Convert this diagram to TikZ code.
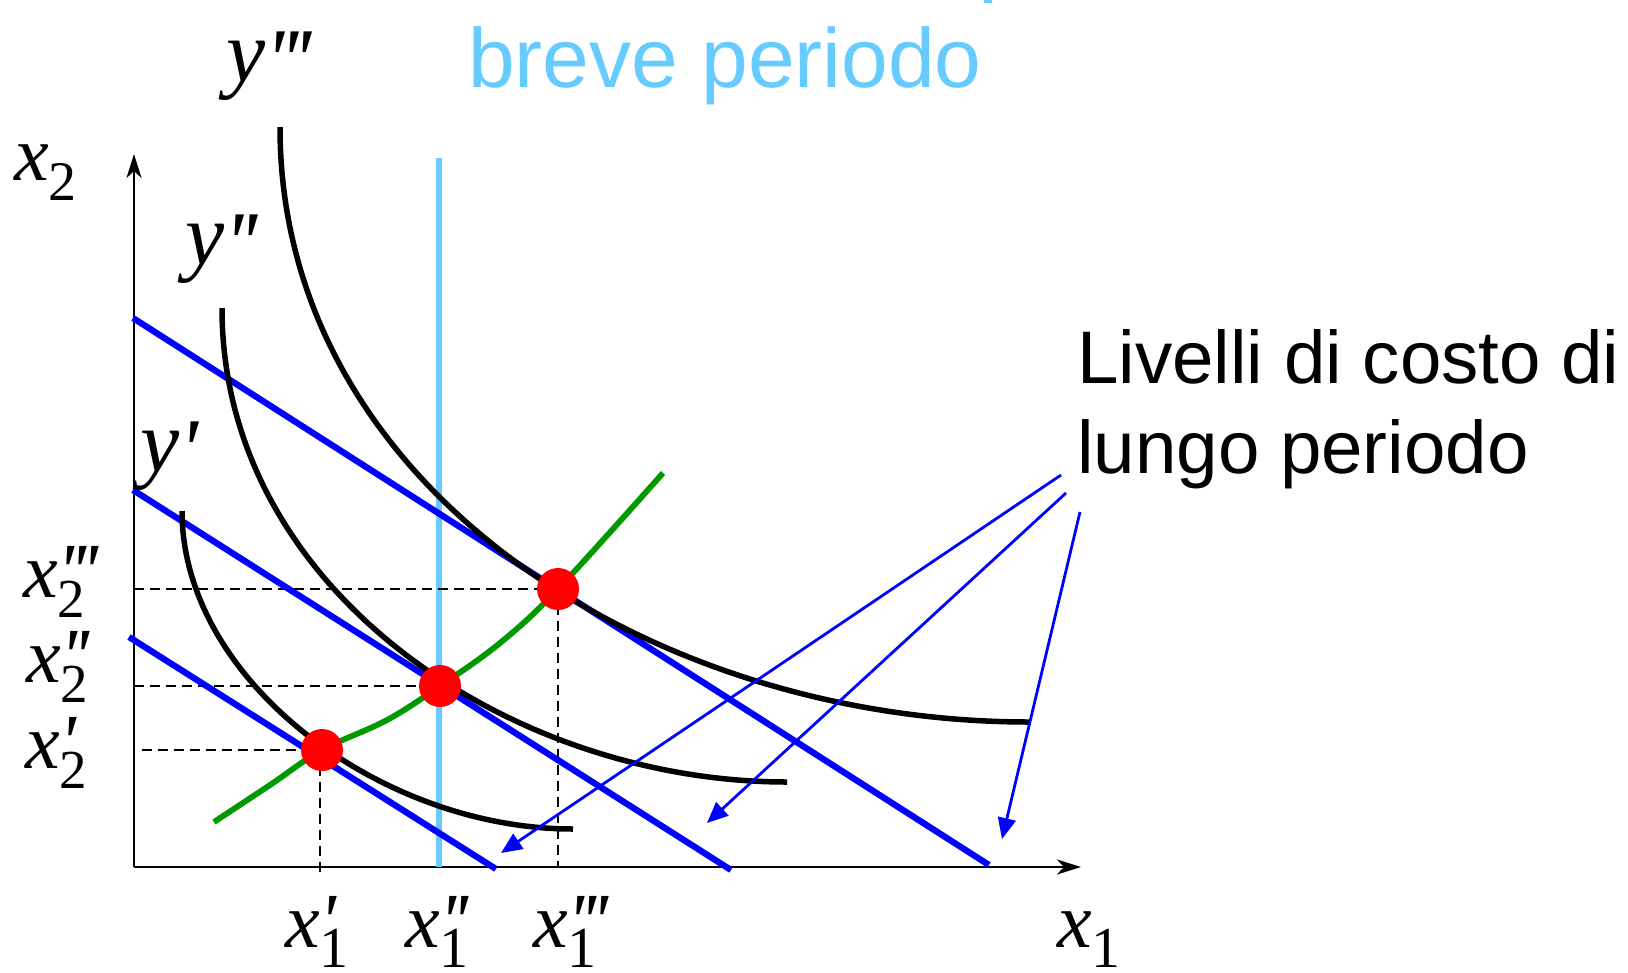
\documentclass[tikz,border=0pt]{standalone}
\usepackage{fontspec}
\newfontfamily\arial{Liberation Sans}
\newfontfamily\tms{Liberation Serif}
\newfontfamily\tmsp[Ligatures=TeXOff]{Liberation Serif}
\usetikzlibrary{arrows.meta}
\definecolor{budget}{RGB}{0,0,255}
\definecolor{expgreen}{RGB}{0,153,0}
\definecolor{srcyan}{RGB}{102,204,255}
\newcommand\pq{{\tmsp\itshape\symbol{39}}}
\newcommand\pone{\pq}
\newcommand\ptwo{\pq\kern-5pt\pq}
\newcommand\pthree{\pq\kern-5pt\pq\kern-5pt\pq}
% x label: #1 subscript size, #2 subscript digit, #3 primes
\newcommand\xsub[3]{x\rlap{\raisebox{0pt}{#3}}\raisebox{-20pt}{\upshape\fontsize{#1}{#1}\selectfont #2}}
\newcommand\ylab[1]{y\raisebox{-8pt}{#1}}
\tikzset{
  xlbl/.style={font=\tms\itshape\fontsize{78}{80}\selectfont, inner sep=0pt, anchor=base west},
  ylbl/.style={font=\tms\itshape\fontsize{88}{92}\selectfont, inner sep=0pt, anchor=base west},
  isoq/.style={line width=5.5pt, black},
  budgetline/.style={line width=6.3pt, budget},
  guide/.style={line width=2.5pt, dash pattern=on 10pt off 6pt},
  axisline/.style={line width=2.8pt, -{Stealth[length=24pt,width=15pt,inset=7pt]}},
  pointer/.style={line width=2.8pt, budget, -{Triangle[length=21pt,width=18pt]}},
  optdot/.style={circle, fill=red, minimum size=42pt, inner sep=0pt},
  exppath/.style={line width=5.8pt, expgreen},
}
\begin{document}
\begin{tikzpicture}[x=1pt,y=-1pt]
\useasboundingbox (0,0) rectangle (1628,972);
% key points
\coordinate (O) at (134,867);
\coordinate (Ytop) at (134,154);
\coordinate (Xend) at (1081,867);
\coordinate (A) at (322,750);
\coordinate (B) at (440,686);
\coordinate (C) at (558,589);
% axes
\draw[axisline] (O) -- (Ytop);
\draw[axisline] (O) -- (Xend);
% short-run fixed input
\draw[line width=6.5pt, srcyan] (439,158) -- (439,867);
\fill[srcyan] (984,0) rectangle (992,3);
% guides
\draw[guide] (O |- C) -- (C);
\draw[guide] (O |- B) -- (B);
\coordinate (g1) at (142,750);
\draw[guide] (g1) -- (A);
\coordinate (g2) at (320,873);
\draw[guide] (A -| g2) -- (g2);
\draw[guide] (C) -- (C |- O);
% isocost lines
\coordinate (L1a) at (129,637); \coordinate (L1b) at (496,869);
\coordinate (L2a) at (133,490); \coordinate (L2b) at (731,870);
\coordinate (L3a) at (133,318); \coordinate (L3b) at (989,865);
\draw[budgetline] (L1a) -- (L1b);
\draw[budgetline] (L2a) -- (L2b);
\draw[budgetline] (L3a) -- (L3b);
% isoquants
\draw[isoq] (182,511) .. controls (182,680) and (380,829) .. (573,829);
\draw[isoq] (222,308) .. controls (222,590) and (510,782) .. (787,782);
\draw[isoq] (280,127) .. controls (280,487) and (650,722) .. (1029,722);
% expansion path
\draw[exppath] plot[smooth, tension=0.6] coordinates {(214,822) (270,785) (322,750) (387,720) (440,686) (500,643) (558,589) (663,473)};
% optimum points
\node[optdot] (dA) at (A) {};
\node[optdot] (dB) at (B) {};
\node[optdot] (dC) at (C) {};
% labels
\node[xlbl] (lx2) at (14,180) {\xsub{56}{2}{}};
\node[xlbl] (lx1) at (1057,947) {\xsub{58}{1}{}};
\node[ylbl] (ly3) at (226,81) {\ylab{\pthree}};
\node[ylbl] (ly2) at (185,264) {\ylab{\ptwo}};
\node[ylbl] (ly1) at (140,471) {\ylab{\pone}};
\node[xlbl] (lx23) at (23,597) {\xsub{55}{2}{\pthree}};
\node[xlbl] (lx22) at (26,682) {\xsub{55}{2}{\ptwo}};
\node[xlbl] (lx21) at (25,768) {\xsub{55}{2}{\pone}};
\node[xlbl] (lx11) at (285,947) {\xsub{58}{1}{\pone}};
\node[xlbl] (lx12) at (405,947) {\xsub{58}{1}{\ptwo}};
\node[xlbl] (lx13) at (533,947) {\xsub{58}{1}{\pthree}};
% texts
\node[font=\arial\fontsize{84}{90}\selectfont, text=srcyan, anchor=base, inner sep=0pt] (bp) at (725,87) {breve periodo};
\node[font=\arial\fontsize{74.5}{90}\selectfont, anchor=base west, inner sep=0pt] (lc1) at (1077,383) {Livelli di costo di};
\node[font=\arial\fontsize{74.5}{90}\selectfont, anchor=base west, inner sep=0pt] (lc2) at (1077,473) {lungo periodo};
% pointers
\coordinate (p1s) at (1061,475); \coordinate (p1e) at (501,853);
\coordinate (p2s) at (1066,493); \coordinate (p2e) at (707,823);
\coordinate (p3s) at (1080,512); \coordinate (p3e) at (1002,839);
\draw[pointer] (p1s) -- (p1e);
\draw[pointer] (p2s) -- (p2e);
\draw[pointer] (p3s) -- (p3e);
\end{tikzpicture}
\end{document}
